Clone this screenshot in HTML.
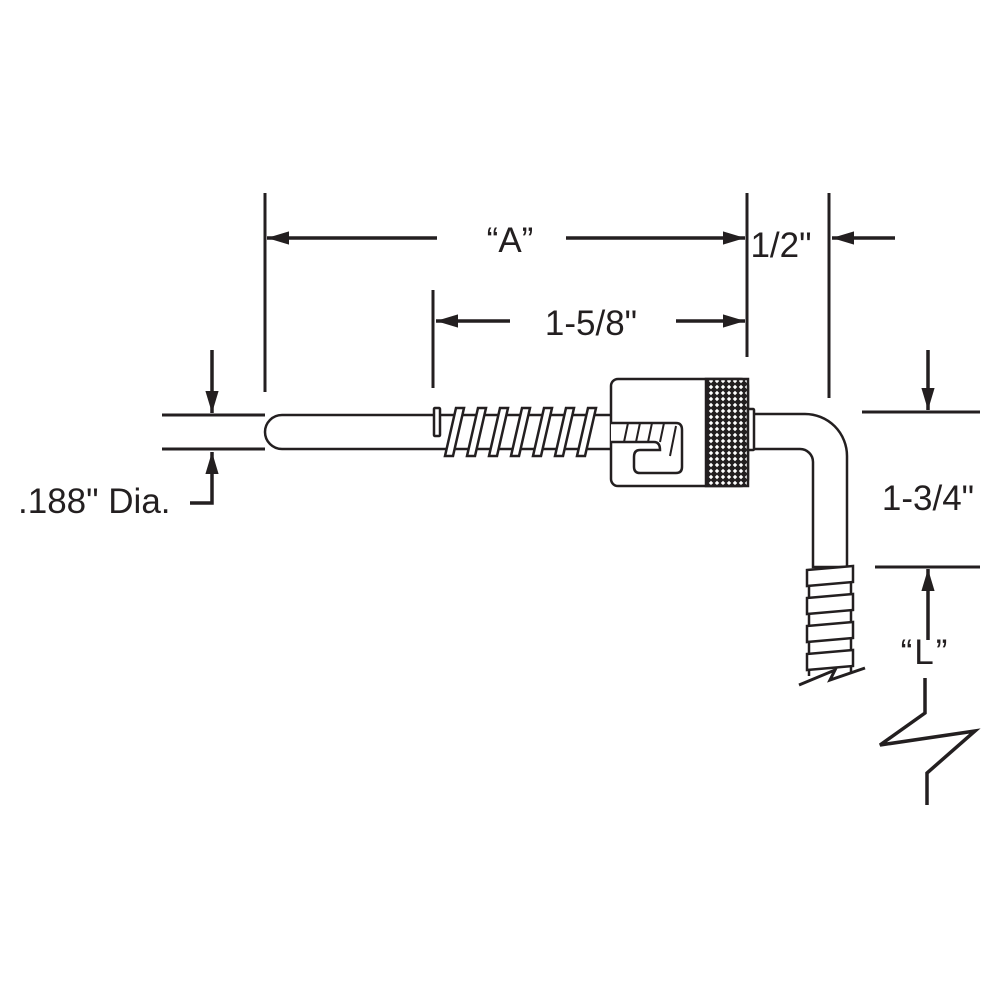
<!DOCTYPE html>
<html><head><style>body{margin:0;background:#fff}svg{display:block}text{font-family:"Liberation Sans",sans-serif;fill:#231f20}</style></head>
<body>
<svg width="1000" height="1000" viewBox="0 0 1000 1000" xmlns="http://www.w3.org/2000/svg">
<defs>
<pattern id="kn" width="6" height="6" patternUnits="userSpaceOnUse">
<rect width="6" height="6" fill="#231f20"/>
<path d="M3 0.8 L5.2 3 L3 5.2 L0.8 3Z" fill="#fff"/>
</pattern>
<marker id="ar" viewBox="0 0 10 10" refX="10" refY="5" markerWidth="22" markerHeight="22" markerUnits="userSpaceOnUse" orient="auto"><path d="M0 2 L10 5 L0 8Z" fill="#231f20"/></marker>
</defs>
<g stroke="#231f20" fill="none" stroke-width="3">
<line x1="265" y1="193" x2="265" y2="392"/>
<line x1="433" y1="290" x2="433" y2="388"/>
<line x1="747" y1="193" x2="747" y2="357"/>
<line x1="829" y1="193" x2="829" y2="398"/>
<line x1="437" y1="238" x2="267" y2="238" marker-end="url(#ar)" stroke-width="3.5"/>
<line x1="566" y1="238" x2="745" y2="238" marker-end="url(#ar)" stroke-width="3.5"/>
<line x1="895" y1="238" x2="832" y2="238" marker-end="url(#ar)" stroke-width="3.5"/>
<line x1="510" y1="321" x2="436" y2="321" marker-end="url(#ar)" stroke-width="3.5"/>
<line x1="676" y1="321" x2="745" y2="321" marker-end="url(#ar)" stroke-width="3.5"/>
<line x1="162" y1="415" x2="265" y2="415"/>
<line x1="162" y1="449" x2="265" y2="449"/>
<line x1="212" y1="350" x2="212" y2="413" marker-end="url(#ar)" stroke-width="3.5"/>
<path d="M190 503 H212 V452" stroke-width="3.5" marker-end="url(#ar)"/>
<line x1="862" y1="412" x2="980" y2="412"/>
<line x1="875" y1="567" x2="980" y2="567"/>
<line x1="928" y1="350" x2="928" y2="410" marker-end="url(#ar)" stroke-width="3.5"/>
<line x1="928" y1="640" x2="928" y2="569" marker-end="url(#ar)" stroke-width="3.5"/>
<path d="M925 678 V713 L880 745 L975 731 L927 773 V805" stroke-width="3.5"/>
</g>
<g stroke="#231f20" fill="#fff" stroke-width="2.5">
<path d="M611 415 H282 A17 17 0 0 0 282 449 H611"/>
<rect x="434" y="408" width="6" height="28" rx="1"/>
<g>
<path d="M456 408 L464 408 L453 456 L445 456Z"/>
<path d="M478 408 L486 408 L475 456 L467 456Z"/>
<path d="M500 408 L508 408 L497 456 L489 456Z"/>
<path d="M522 408 L530 408 L519 456 L511 456Z"/>
<path d="M544 408 L552 408 L541 456 L533 456Z"/>
<path d="M566 408 L574 408 L563 456 L555 456Z"/>
<path d="M588 408 L596 408 L585 456 L577 456Z"/>
</g>
<path d="M753 414 H805 A42 42 0 0 1 847 456 V567 H813 V462 A13 13 0 0 0 800 449 H753Z"/>
<g>
<path d="M807 570 L853 566 L853 582 L807 586Z"/>
<path d="M807 598 L853 594 L853 610 L807 614Z"/>
<path d="M807 626 L853 622 L853 638 L807 642Z"/>
<path d="M807 654 L853 650 L853 666 L807 670Z"/>
<line x1="809" y1="586" x2="809" y2="598"/><line x1="851" y1="582" x2="851" y2="594"/>
<line x1="809" y1="614" x2="809" y2="626"/><line x1="851" y1="610" x2="851" y2="622"/>
<line x1="809" y1="642" x2="809" y2="654"/><line x1="851" y1="638" x2="851" y2="650"/>
<line x1="809" y1="670" x2="809" y2="676"/><line x1="851" y1="666" x2="851" y2="672"/>
</g>
<path d="M799 685 L835 670 L830 680 L865 668" fill="none" stroke-width="3"/>
<rect x="611" y="379" width="137" height="107" rx="7"/>
<rect x="706" y="379" width="42" height="107" fill="url(#kn)"/>
<rect x="748" y="409" width="6" height="41" rx="1"/>
<path d="M611 423 H676 Q682 423 682 430 V467 Q682 473 676 473 H640 Q634 473 634 467 V457 Q634 450 640 450 H660 Q660 442 654 442 H611"/>
<path d="M628 423 L624 442 M640 423 L636 442 M652 423 L648 442 M664 423 L660 442 M676 426 L670 456" fill="none" stroke-width="2"/>
</g>
<g font-size="35">
<text x="510" y="252" text-anchor="middle">“A”</text>
<text x="781" y="257" text-anchor="middle">1/2"</text>
<text x="591" y="335" text-anchor="middle">1-5/8"</text>
<text x="928" y="510" text-anchor="middle">1-3/4"</text>
<text x="18" y="513">.188" Dia.</text>
<text x="925" y="664" text-anchor="middle" letter-spacing="2">“L”</text>
</g>
</svg>
</body></html>
